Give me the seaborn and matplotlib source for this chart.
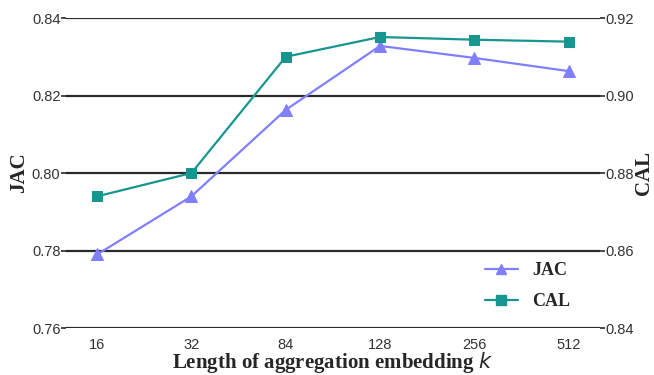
import numpy as np
import matplotlib
matplotlib.use('Agg')
import matplotlib.pyplot as plt
import seaborn as sns
from matplotlib.lines import Line2D

k_labels = ['16', '32', '84', '128', '256', '512']
jac = [0.779, 0.794, 0.8163, 0.8328, 0.8297, 0.8263]
cal = [0.874, 0.880, 0.910, 0.9151, 0.9144, 0.9139]

jac_color = '#8080ff'
cal_color = '#16968f'

sns.set_style('white')
plt.rcParams['font.family'] = ['Liberation Sans', 'DejaVu Sans']
plt.rcParams['mathtext.fontset'] = 'dejavusans'

fig = plt.figure(figsize=(6.54, 3.75), dpi=100)
ax1 = fig.add_axes([0.101, 0.125, 0.816, 0.827])
ax2 = ax1.twinx()

pos = np.arange(len(k_labels))
sns.lineplot(x=pos, y=jac, ax=ax1, color=jac_color, marker='^', markersize=8,
             markeredgecolor=jac_color, linewidth=1.6, label='JAC', legend=False)
sns.lineplot(x=pos, y=cal, ax=ax2, color=cal_color, marker='s', markersize=7,
             markeredgecolor=cal_color, linewidth=1.6, label='CAL', legend=False)

ax1.set_xlim(-0.33, 5.33)
ax1.set_ylim(0.76, 0.84)
ax2.set_ylim(0.84, 0.92)
ax1.set_yticks([0.76, 0.78, 0.80, 0.82, 0.84])
ax2.set_yticks([0.84, 0.86, 0.88, 0.90, 0.92])
ax1.set_yticklabels(['0.76', '0.78', '0.80', '0.82', '0.84'])
ax2.set_yticklabels(['0.84', '0.86', '0.88', '0.90', '0.92'])
ax1.set_xticks(pos)
ax1.set_xticklabels(k_labels)

for y in [0.76, 0.78, 0.80, 0.82, 0.84]:
    ax1.axhline(y, color='#2a2a2a', linewidth=1.6, zorder=0)

for ax in (ax1, ax2):
    for s in ax.spines.values():
        s.set_visible(False)
    ax.tick_params(axis='y', length=3.5, width=1.2, color='#2a2a2a',
                   labelsize=10.5, labelcolor='#333333', pad=0.5)
ax1.tick_params(axis='x', length=0, labelsize=10.5, labelcolor='#333333', pad=7)
ax1.tick_params(axis='y', left=True)
ax2.tick_params(axis='y', right=True)

serif_bold = {'family': 'Liberation Serif', 'weight': 'bold', 'size': 15}
ax1.set_ylabel('JAC', fontdict=serif_bold, labelpad=2)
ax2.set_ylabel('CAL', fontdict=serif_bold, labelpad=0)
ax1.set_xlabel('Length of aggregation embedding $k$', fontdict=serif_bold, labelpad=-1)

handles = [Line2D([], [], color=jac_color, marker='^', markersize=7, linewidth=1.6),
           Line2D([], [], color=cal_color, marker='s', markersize=6.5, linewidth=1.6)]
leg = ax2.legend(handles, ['JAC', 'CAL'], loc='lower right', bbox_to_anchor=(0.975, 0.005),
                 frameon=False, prop={'family': 'Liberation Serif', 'weight': 'bold', 'size': 13},
                 handlelength=1.8, labelspacing=0.8)

fig.savefig('out.png', dpi=100)
